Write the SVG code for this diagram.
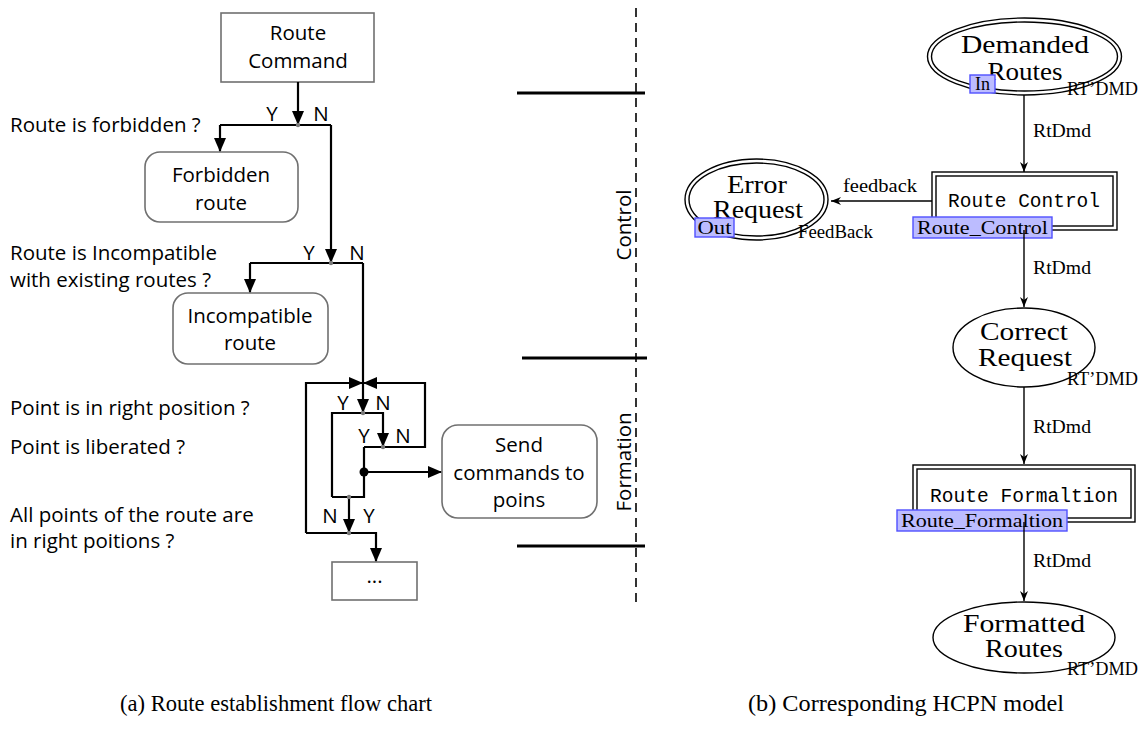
<svg xmlns="http://www.w3.org/2000/svg" width="1144" height="729" viewBox="0 0 1144 729">
<style>
.fc{fill:none;stroke:#000;stroke-width:2.2}
.box{fill:#fff;stroke:#707070;stroke-width:1.6}
.t{font-family:"Open Sans","Liberation Sans",sans-serif;font-size:20.5px;fill:#000}
.tm{font-family:"Open Sans","Liberation Sans",sans-serif;font-size:20.5px;fill:#000;text-anchor:middle}
.jd{fill:#7a7a7a}
.bar{stroke:#000;stroke-width:3.2}
.pn{fill:#fff;stroke:#000;stroke-width:1.4}
.arc{fill:none;stroke:#000;stroke-width:1.4}
.sf{font-family:"Liberation Serif","Times New Roman",serif;fill:#000}
.big{font-size:25px;text-anchor:middle}
.sm{font-size:18px}
.mono{font-family:"Liberation Mono","DejaVu Sans Mono",monospace;font-size:19.5px;fill:#000;text-anchor:middle}
.tag{fill:#bcbcff;stroke:#5050ff;stroke-width:1.4}
.cap{font-family:"Liberation Serif","Times New Roman",serif;font-size:23px;fill:#000}
</style>
<defs>
<marker id="ah" markerUnits="userSpaceOnUse" markerWidth="14" markerHeight="14" viewBox="0 0 14 12" refX="13" refY="6" orient="auto">
<path d="M0,0 L14,6 L0,12 z" fill="#000"/>
</marker>
<marker id="pa" markerUnits="userSpaceOnUse" markerWidth="10" markerHeight="10" viewBox="0 0 10 8" refX="10" refY="4" orient="auto">
<path d="M0,0 L10,4 L0,8 L3,4 z" fill="#000"/>
</marker>
</defs>

<!-- Flowchart nodes -->
<g id="route-command"><rect class="box" x="221" y="13" width="153" height="69"/><text class="tm" x="298" y="40">Route</text><text class="tm" x="298" y="68">Command</text></g>
<g id="forbidden-route"><rect class="box" x="145" y="152" width="153" height="70" rx="15"/><text class="tm" x="221" y="182">Forbidden</text><text class="tm" x="221" y="210">route</text></g>
<g id="incompatible-route"><rect class="box" x="173" y="293" width="155" height="71" rx="15"/><text class="tm" x="250" y="323">Incompatible</text><text class="tm" x="250" y="350">route</text></g>
<g id="send-commands"><rect class="box" x="442" y="425" width="155" height="93" rx="16"/><text class="tm" x="519" y="452">Send</text><text class="tm" x="519" y="480">commands to</text><text class="tm" x="519" y="507">poins</text></g>
<g id="continue-box"><rect class="box" x="332" y="562" width="85" height="38"/><text class="tm" x="374.5" y="589">···</text></g>

<!-- Flowchart question labels -->
<g id="questions">
<text class="t" x="10" y="132">Route is forbidden ?</text>
<text class="t" x="10" y="260">Route is Incompatible</text>
<text class="t" x="10" y="287">with existing routes ?</text>
<text class="t" x="10" y="415">Point is in right position ?</text>
<text class="t" x="10" y="454">Point is liberated ?</text>
<text class="t" x="10" y="522">All points of the route are</text>
<text class="t" x="10" y="548">in right poitions ?</text>
</g>

<!-- Flowchart connectors -->
<g id="flow-connectors">
<path class="fc" d="M298,82 V124" marker-end="url(#ah)"/>
<path class="fc" d="M220,125 H331"/>
<path class="fc" d="M220,125 V151" marker-end="url(#ah)"/>
<path class="fc" d="M331,125 V262" marker-end="url(#ah)"/>
<path class="fc" d="M250,263 H363"/>
<path class="fc" d="M250,263 V292" marker-end="url(#ah)"/>
<path class="fc" d="M363,263 V383"/>
<path class="fc" d="M306,533 V383 H362" marker-end="url(#ah)"/>
<path class="fc" d="M364,447 H425 V383 H364" marker-end="url(#ah)"/>
<path class="fc" d="M363,383 V412" marker-end="url(#ah)"/>
<path class="fc" d="M332,497 V413 H383 V446" marker-end="url(#ah)"/>
<path class="fc" d="M364,447 V497 H332"/>
<path class="fc" d="M364,472 H441" marker-end="url(#ah)"/>
<path class="fc" d="M349,497 V532" marker-end="url(#ah)"/>
<path class="fc" d="M306,533 H376 V561" marker-end="url(#ah)"/>
<circle cx="364" cy="472" r="4.5" fill="#000"/>
<circle class="jd" cx="298" cy="125" r="2.2"/>
<circle class="jd" cx="331" cy="263" r="2.2"/>
<circle class="jd" cx="363" cy="413" r="2.2"/>
<circle class="jd" cx="383" cy="447" r="2.2"/>
<circle class="jd" cx="349" cy="497" r="2.2"/>
<circle class="jd" cx="349" cy="533" r="2.2"/>
<text class="tm" x="272" y="121">Y</text><text class="tm" x="321" y="121">N</text>
<text class="tm" x="309" y="260">Y</text><text class="tm" x="357" y="260">N</text>
<text class="tm" x="343" y="410">Y</text><text class="tm" x="383" y="410">N</text>
<text class="tm" x="364" y="443">Y</text><text class="tm" x="403" y="443">N</text>
<text class="tm" x="330" y="523">N</text><text class="tm" x="369" y="523">Y</text>
</g>

<!-- Phase separators -->
<g id="phases">
<line x1="636" y1="8" x2="636" y2="606" stroke="#000" stroke-width="1.6" stroke-dasharray="9,6"/>
<line class="bar" x1="517" y1="93" x2="645" y2="93"/>
<line class="bar" x1="522" y1="358" x2="647" y2="358"/>
<line class="bar" x1="517" y1="546" x2="645" y2="546"/>
<text class="tm" transform="translate(631,225) rotate(-90)">Control</text>
<text class="tm" transform="translate(631,462) rotate(-90)">Formation</text>
</g>

<!-- HCPN nodes -->
<g id="demanded-routes">
<ellipse class="pn" cx="1024.5" cy="56.5" rx="97" ry="38.5"/>
<ellipse class="pn" cx="1024.5" cy="56.5" rx="93" ry="34.5"/>
<text class="sf big" x="1025" y="53" textLength="128" lengthAdjust="spacingAndGlyphs">Demanded</text>
<text class="sf big" x="1025" y="80" textLength="75" lengthAdjust="spacingAndGlyphs">Routes</text>
<rect class="tag" x="970" y="75" width="25" height="18"/>
<text class="sf sm" x="982.5" y="90" text-anchor="middle">In</text>
<text class="sf sm" x="1067" y="95" textLength="71" lengthAdjust="spacingAndGlyphs">RT’DMD</text>
</g>
<g id="route-control">
<rect class="pn" x="932" y="172" width="185" height="58"/>
<rect class="pn" x="936" y="176" width="177" height="50"/>
<text class="mono" x="1024" y="207" textLength="152" lengthAdjust="spacingAndGlyphs">Route Control</text>
<rect class="tag" x="913" y="217" width="139" height="21"/>
<text class="sf sm" x="917" y="234" textLength="131" lengthAdjust="spacingAndGlyphs">Route_Control</text>
</g>
<g id="error-request">
<ellipse class="pn" cx="756.5" cy="199.5" rx="71.5" ry="40.5"/>
<ellipse class="pn" cx="756.5" cy="199.5" rx="67.5" ry="36.5"/>
<text class="sf big" x="757" y="193" textLength="60" lengthAdjust="spacingAndGlyphs">Error</text>
<text class="sf big" x="758" y="218" textLength="90" lengthAdjust="spacingAndGlyphs">Request</text>
<rect class="tag" x="695" y="218" width="39" height="19"/>
<text class="sf sm" x="714.5" y="234" text-anchor="middle" textLength="34" lengthAdjust="spacingAndGlyphs">Out</text>
<text class="sf sm" x="798" y="238" textLength="75" lengthAdjust="spacingAndGlyphs">FeedBack</text>
</g>
<g id="correct-request">
<ellipse class="pn" cx="1024" cy="347.5" rx="71" ry="39.5"/>
<text class="sf big" x="1024" y="340" textLength="88" lengthAdjust="spacingAndGlyphs">Correct</text>
<text class="sf big" x="1025" y="366" textLength="94" lengthAdjust="spacingAndGlyphs">Request</text>
<text class="sf sm" x="1067" y="385" textLength="71" lengthAdjust="spacingAndGlyphs">RT’DMD</text>
</g>
<g id="route-formaltion">
<rect class="pn" x="913" y="465" width="222" height="57"/>
<rect class="pn" x="917" y="469" width="214" height="49"/>
<text class="mono" x="1024" y="502" textLength="188" lengthAdjust="spacingAndGlyphs">Route Formaltion</text>
<rect class="tag" x="897" y="510" width="170" height="21"/>
<text class="sf sm" x="901" y="527" textLength="162" lengthAdjust="spacingAndGlyphs">Route_Formaltion</text>
</g>
<g id="formatted-routes">
<ellipse class="pn" cx="1024" cy="637.5" rx="91" ry="35.5"/>
<text class="sf big" x="1024" y="632" textLength="122" lengthAdjust="spacingAndGlyphs">Formatted</text>
<text class="sf big" x="1024" y="657" textLength="78" lengthAdjust="spacingAndGlyphs">Routes</text>
<text class="sf sm" x="1067" y="675" textLength="71" lengthAdjust="spacingAndGlyphs">RT’DMD</text>
</g>

<!-- HCPN connectors -->
<g id="hcpn-connectors">
<path class="arc" d="M1024,95 V172" marker-end="url(#pa)"/>
<path class="arc" d="M932,201 H831" marker-end="url(#pa)"/>
<path class="arc" d="M1024,230 V307" marker-end="url(#pa)"/>
<path class="arc" d="M1024,387 V464" marker-end="url(#pa)"/>
<path class="arc" d="M1024,522 V601" marker-end="url(#pa)"/>
<text class="sf sm" x="1033" y="137" textLength="58" lengthAdjust="spacingAndGlyphs">RtDmd</text>
<text class="sf sm" x="843" y="192" textLength="74" lengthAdjust="spacingAndGlyphs">feedback</text>
<text class="sf sm" x="1033" y="274" textLength="58" lengthAdjust="spacingAndGlyphs">RtDmd</text>
<text class="sf sm" x="1033" y="433" textLength="58" lengthAdjust="spacingAndGlyphs">RtDmd</text>
<text class="sf sm" x="1033" y="567" textLength="58" lengthAdjust="spacingAndGlyphs">RtDmd</text>
</g>

<!-- Captions -->
<g id="captions">
<text class="cap" x="120" y="711" textLength="312" lengthAdjust="spacingAndGlyphs">(a) Route establishment flow chart</text>
<text class="cap" x="748" y="711" textLength="316" lengthAdjust="spacingAndGlyphs">(b) Corresponding HCPN model</text>
</g>
</svg>
